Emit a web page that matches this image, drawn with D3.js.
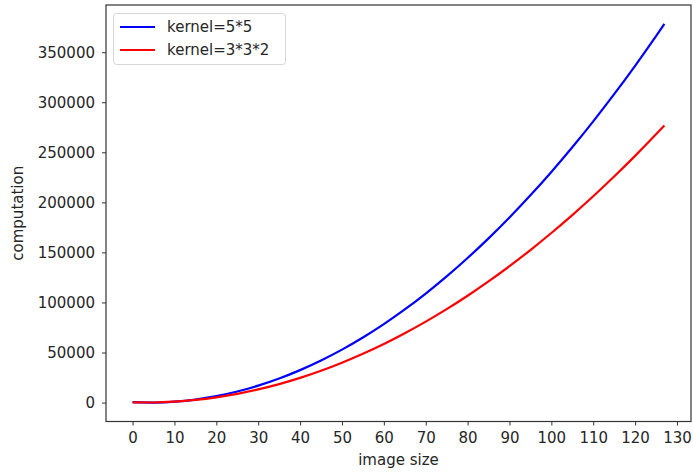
<!DOCTYPE html>
<html>
<head>
<meta charset="utf-8">
<script src="https://cdn.jsdelivr.net/npm/d3@7"></script>
<style>
  body { margin: 0; background: #fff; }
  text { font-family: "DejaVu Sans", sans-serif; fill: #262626; }
</style>
</head>
<body>
<svg id="chart"></svg>
<script>
// image sizes sampled along the curves
const sizes = [0, 5, 10, 15, 20, 25, 30, 35, 40, 45, 50, 55, 60, 65, 70, 75, 80, 85, 90, 95, 100, 105, 110, 115, 120, 125, 127];

// kernel=5*5
const kernel55 = [400, 25, 900, 3025, 6400, 11025, 16900, 24025, 32400, 42025, 52900, 65025, 78400, 93025,
    108900, 126025, 144400, 164025, 184900, 207025, 230400, 255025, 280900, 308025, 336400, 366025, 378225];

// kernel=3*3*2
const kernel332 = [180, 90, 900, 2610, 5220, 8730, 13140, 18450, 24660, 31770, 39780, 48690, 58500, 69210,
    80820, 93330, 106740, 121050, 136260, 152370, 169380, 187290, 206100, 225810, 246420, 267930, 276786];

const xTicks = [0, 10, 20, 30, 40, 50, 60, 70, 80, 90, 100, 110, 120, 130];
const yTicks = [0, 50000, 100000, 150000, 200000, 250000, 300000, 350000];

const seriesNames = ["kernel=5*5", "kernel=3*3*2"];
const seriesColors = ["#0000ff", "#ff0000"];

const width = 693;
const height = 473;
const margin = { top: 5, right: 2, bottom: 51.5, left: 106 };

const svg = d3.select("#chart")
    .attr("width", width)
    .attr("height", height);

// matplotlib-like 5% padding around the data
const xPad = (d3.max(sizes) - d3.min(sizes)) * 0.05;
const yMax = d3.max(kernel55);
const yPad = yMax * 0.05;

const x = d3.scaleLinear()
    .domain([d3.min(sizes) - xPad, d3.max(sizes) + xPad])
    .range([margin.left, width - margin.right]);

const y = d3.scaleLinear()
    .domain([-yPad, yMax + yPad])
    .range([height - margin.bottom, margin.top]);

// axes
const xAxis = svg.append("g")
    .attr("transform", `translate(0,${height - margin.bottom})`)
    .call(d3.axisBottom(x).tickValues(xTicks).tickSize(4).tickPadding(7).tickFormat(d3.format("d")));

const yAxis = svg.append("g")
    .attr("transform", `translate(${margin.left},0)`)
    .call(d3.axisLeft(y).tickValues(yTicks).tickSize(4).tickPadding(7).tickFormat(d3.format("d")));

[xAxis, yAxis].forEach(g => {
    g.select(".domain").remove();
    g.selectAll(".tick line").attr("stroke", "#333").attr("stroke-width", 1);
    g.selectAll(".tick text").style("font-size", "15px").attr("fill", "#262626");
});

// lines
const line = d3.line()
    .x((d, i) => x(sizes[i]))
    .y(d => y(d))
    .curve(d3.curveMonotoneX);

[kernel55, kernel332].forEach((values, i) => {
    svg.append("path")
        .datum(values)
        .attr("fill", "none")
        .attr("stroke", seriesColors[i])
        .attr("stroke-width", 2.2)
        .attr("d", line);
});

// frame
svg.append("rect")
    .attr("x", margin.left)
    .attr("y", margin.top)
    .attr("width", width - margin.left - margin.right)
    .attr("height", height - margin.top - margin.bottom)
    .attr("fill", "none")
    .attr("stroke", "#333")
    .attr("stroke-width", 1.2);

// axis labels
svg.append("text")
    .attr("x", (margin.left + width - margin.right) / 2)
    .attr("y", height - 8)
    .attr("text-anchor", "middle")
    .style("font-size", "15px")
    .text("image size");

svg.append("text")
    .attr("transform", `translate(23,${(margin.top + height - margin.bottom) / 2}) rotate(-90)`)
    .attr("text-anchor", "middle")
    .style("font-size", "15px")
    .text("computation");

// legend
const legend = svg.append("g");
legend.append("rect")
    .attr("x", 113.5)
    .attr("y", 13.5)
    .attr("width", 172)
    .attr("height", 51)
    .attr("rx", 3)
    .attr("fill", "#fff")
    .attr("fill-opacity", 0.8)
    .attr("stroke", "#d6d6d6");

seriesNames.forEach((name, i) => {
    const ly = 27 + i * 23;
    legend.append("line")
        .attr("x1", 120).attr("x2", 155)
        .attr("y1", ly).attr("y2", ly)
        .attr("stroke", seriesColors[i])
        .attr("stroke-width", 2.2);
    legend.append("text")
        .attr("x", 167)
        .attr("y", ly + 5)
        .style("font-size", "15px")
        .text(name);
});
</script>
</body>
</html>
